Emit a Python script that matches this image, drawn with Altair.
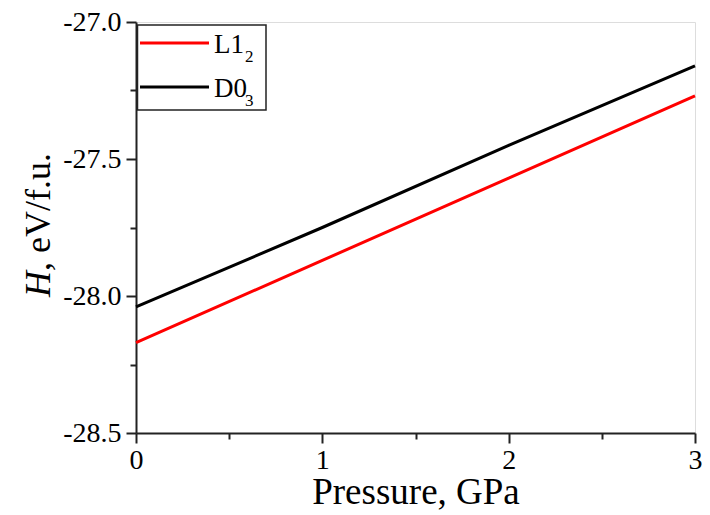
import altair as alt
import pandas as pd

# ---- data ----
pressure = [0, 1, 2, 3]
h_l12 = [-28.17, -27.87, -27.57, -27.27]
h_d03 = [-28.04, -27.75, -27.45, -27.16]
series = ["L1₂", "D0₃"]
legend_main = ["L1", "D0"]
legend_sub = ["2", "3"]
colors = ["#ff0000", "#000000"]
x_major = [0, 1, 2, 3]
x_minor = [0.5, 1.5, 2.5]
y_major = [-28.5, -28.0, -27.5, -27.0]
y_minor = [-28.25, -27.75, -27.25]

df = pd.DataFrame({
    "P": pressure + pressure,
    "H": h_l12 + h_d03,
    "phase": [series[0]] * len(pressure) + [series[1]] * len(pressure),
})
one = pd.DataFrame({"k": [0]})

FONT = "Times New Roman, Liberation Serif, DejaVu Serif, serif"
AX = "#222222"
xs = alt.Scale(domain=[0, 3], nice=False, zero=False)
ys = alt.Scale(domain=[-28.5, -27.0], nice=False, zero=False)

lines = alt.Chart(df).mark_line(strokeWidth=3).encode(
    x=alt.X("P:Q", scale=xs, axis=alt.Axis(
        values=x_major, orient="bottom", format="d", grid=False,
        tickSize=10, tickWidth=2, tickColor=AX, domainWidth=2, domainColor=AX,
        labelFont=FONT, labelFontSize=28, labelColor="black", labelPadding=3,
        labelFlush=False, title="Pressure, GPa", titleFont=FONT, titleFontSize=37,
        titleFontWeight="normal", titleColor="black", titlePadding=0)),
    y=alt.Y("H:Q", scale=ys, axis=alt.Axis(
        values=y_major, orient="left", grid=False,
        tickSize=10, tickWidth=2, tickColor=AX, domainWidth=2, domainColor=AX,
        labelFont=FONT, labelFontSize=28, labelColor="black", labelPadding=5,
        labelExpr="replace(format(datum.value, '.1f'), '\u2212', '-')",
        title=None)),
    color=alt.Color("phase:N", scale=alt.Scale(domain=series, range=colors), legend=None),
)

minor = alt.Chart(df).mark_point(opacity=0).encode(
    x=alt.X("P:Q", scale=xs, axis=alt.Axis(
        values=x_minor, orient="bottom", labels=False, domain=False, grid=False,
        tickSize=6, tickWidth=2, tickColor=AX, title=None)),
    y=alt.Y("H:Q", scale=ys, axis=alt.Axis(
        values=y_minor, orient="left", labels=False, domain=False, grid=False,
        tickSize=6, tickWidth=2, tickColor=AX, title=None)),
)

# y-axis title with italic H
ytitle_h = alt.Chart(one).mark_text(
    text="H", font=FONT, fontSize=36, fontStyle="italic", angle=270,
    align="left", baseline="alphabetic", color="black"
).encode(x=alt.value(-86), y=alt.value(275))
ytitle_rest = alt.Chart(one).mark_text(
    text=", eV/f.u.", font=FONT, fontSize=36, angle=270,
    align="left", baseline="alphabetic", color="black"
).encode(x=alt.value(-86), y=alt.value(249))

# legend
legend_layers = [
    alt.Chart(one).mark_rect(fill="white", stroke=AX, strokeWidth=1.5).encode(
        x=alt.value(1.5), x2=alt.value(130), y=alt.value(3), y2=alt.value(88))
]
row_y = [21, 65]
for i in range(len(series)):
    yy = row_y[i]
    legend_layers.append(alt.Chart(one).mark_rule(stroke=colors[i], strokeWidth=3).encode(
        x=alt.value(4), x2=alt.value(73), y=alt.value(yy)))
    legend_layers.append(alt.Chart(one).mark_text(
        text=legend_main[i], font=FONT, fontSize=27, align="left",
        baseline="alphabetic", color="black").encode(x=alt.value(78), y=alt.value(yy + 10)))
    legend_layers.append(alt.Chart(one).mark_text(
        text=legend_sub[i], font=FONT, fontSize=17, align="left",
        baseline="alphabetic", color="black").encode(x=alt.value(109), y=alt.value(yy + 19)))

chart = alt.layer(minor, lines, ytitle_h, ytitle_rest, *legend_layers).resolve_axis(
    x="independent", y="independent"
).properties(
    width=559, height=411,
    autosize=alt.AutoSizeParams(type="none"),
    padding={"left": 128, "top": 14, "right": 7, "bottom": 79},
).configure_view(stroke=AX, strokeWidth=2).configure(background="white")

chart.save("out.html", embed_options={"renderer": "svg", "actions": False})
